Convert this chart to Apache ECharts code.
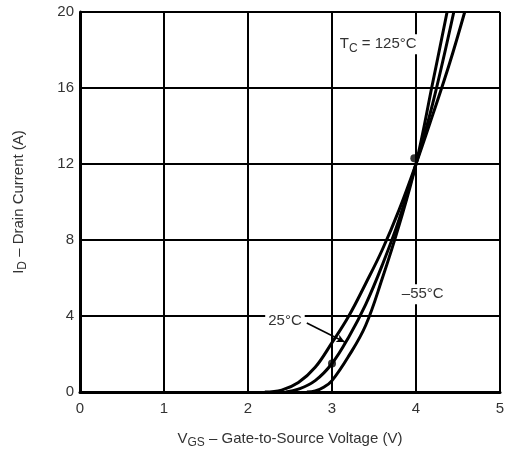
<!DOCTYPE html>
<html><head><meta charset="utf-8">
<script src="https://cdn.jsdelivr.net/npm/echarts@6/dist/echarts.min.js"></script>
<style>html,body{margin:0;padding:0;background:#fff}#c{width:508px;height:449px}</style>
</head><body><div id="c"></div>
<script>
// Data
const xTicks = [0, 1, 2, 3, 4, 5];
const yTicks = [0, 4, 8, 12, 16, 20];
const curve125 = [[2.2,0],[2.4,0.1],[2.6,0.5],[2.8,1.3],[3.0,2.6],[3.2,4.0],[3.4,5.7],[3.6,7.5],[3.8,9.6],[4.0,12.0],[4.2,14.6],[4.4,17.3],[4.58,20]];
const curve25 = [[2.45,0],[2.6,0.15],[2.8,0.6],[3.0,1.5],[3.2,2.9],[3.4,4.6],[3.6,6.7],[3.8,9.1],[4.0,12.0],[4.2,15.2],[4.45,20]];
const curveM55 = [[2.7,0],[2.8,0.05],[2.9,0.25],[3.0,0.6],[3.2,1.9],[3.4,3.5],[3.6,6.0],[3.8,8.8],[4.0,12.0],[4.2,16.3],[4.37,20]];
const dots = [[3.0,1.5],[3.98,12.3]];
const labels = [
  {name:'125', text:'{m|T}{s|C}{m| = 125°C}', coord:[3.55,18.3]},
  {name:'m55', text:'{m|–55°C}', coord:[4.08,5.15]},
  {name:'25', text:'{m|25°C}', coord:[2.44,3.74]}
];
const arrow25 = [[2.70,3.63],[3.15,2.63]];

const txt = '#333';
const ff = 'Liberation Sans, Arial, sans-serif';
const rich = {
  m:{fontSize:15, color:txt, fontFamily:ff, lineHeight:18},
  s:{fontSize:12, color:txt, fontFamily:ff, padding:[8,0,0,0], lineHeight:18}
};
const chart = echarts.init(document.getElementById('c'));
const lineS = (d) => ({type:'line', data:d, smooth:0.4, showSymbol:false, lineStyle:{color:'#000', width:3}, z:3});
chart.setOption({
  animation:false,
  grid:{left:80, right:8, top:12, bottom:57, containLabel:false, outerBoundsMode:'none'},
  xAxis:{type:'value', min:0, max:5, interval:1,
    name:'{m|V}{s|GS}{m| – Gate-to-Source Voltage (V)}', nameLocation:'middle', nameGap:38,
    nameTextStyle:{rich:rich},
    axisLine:{show:true, onZero:false, lineStyle:{color:'#000', width:3}},
    axisTick:{show:false},
    axisLabel:{color:txt, fontSize:15, fontFamily:ff, margin:9},
    splitLine:{show:true, lineStyle:{color:'#000', width:2}}
  },
  yAxis:{type:'value', min:0, max:20, interval:4,
    name:'{m|I}{s|D}{m| – Drain Current (A)}', nameLocation:'middle', nameGap:52, nameRotate:90,
    nameTextStyle:{rich:rich},
    axisLine:{show:true, lineStyle:{color:'#000', width:3}},
    axisTick:{show:false},
    axisLabel:{color:txt, fontSize:15, fontFamily:ff, margin:6},
    splitLine:{show:true, lineStyle:{color:'#000', width:2}}
  },
  series:[
    lineS(curve125), lineS(curve25), lineS(curveM55),
    {type:'scatter', data:dots, symbolSize:8, itemStyle:{color:'#000'}, z:4},
    {type:'scatter', data:[], z:5,
      markPoint:{symbol:'rect', symbolSize:0,
        data:labels.map(l=>({name:l.name, coord:l.coord, value:l.text,
          label:{show:true, formatter:l.text, rich:rich, position:'inside', backgroundColor:'#fff', padding:[1,3,1,3]}}))},
      markLine:{silent:true, symbol:['none','arrow'], symbolSize:[6,8],
        lineStyle:{color:'#000', width:1.5, type:'solid'}, label:{show:false},
        data:[[{coord:arrow25[0]},{coord:arrow25[1]}]]}
    }
  ]
});
</script></body></html>
